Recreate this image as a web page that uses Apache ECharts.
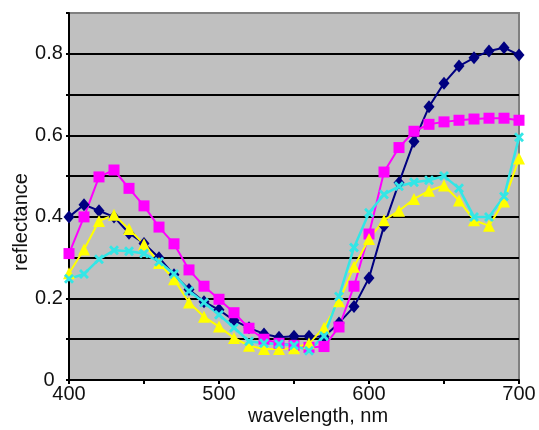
<!DOCTYPE html>
<html>
<head>
<meta charset="utf-8">
<script src="https://cdn.jsdelivr.net/npm/echarts@6/dist/echarts.min.js"></script>
<style>
html,body{margin:0;padding:0;background:#fff;}
#chart{width:539px;height:430px;}
</style>
</head>
<body>
<div id="chart"></div>
<script>
const wavelengths = [400,410,420,430,440,450,460,470,480,490,500,510,520,530,540,550,560,570,580,590,600,610,620,630,640,650,660,670,680,690,700];
const navyValues = [0.40,0.43,0.415,0.40,0.36,0.335,0.30,0.258,0.222,0.192,0.172,0.146,0.128,0.113,0.105,0.107,0.107,0.106,0.14,0.18,0.25,0.378,0.484,0.585,0.67,0.728,0.77,0.79,0.807,0.815,0.797];
const magentaValues = [0.31,0.40,0.498,0.515,0.47,0.427,0.375,0.334,0.27,0.23,0.198,0.165,0.127,0.10,0.09,0.085,0.08,0.082,0.13,0.23,0.358,0.51,0.57,0.61,0.627,0.633,0.637,0.64,0.642,0.642,0.637];
const yellowValues = [0.262,0.32,0.39,0.405,0.37,0.333,0.287,0.247,0.19,0.155,0.131,0.103,0.084,0.076,0.076,0.078,0.09,0.128,0.193,0.278,0.346,0.392,0.415,0.444,0.464,0.477,0.44,0.392,0.378,0.438,0.543];
const cyanValues = [0.248,0.26,0.296,0.318,0.316,0.31,0.29,0.26,0.218,0.19,0.16,0.128,0.095,0.09,0.088,0.085,0.072,0.108,0.205,0.325,0.41,0.455,0.475,0.485,0.49,0.50,0.47,0.40,0.40,0.45,0.595];
const xTickLabels = ['400','500','600','700'];
const yTickLabels = ['0','0.2','0.4','0.6','0.8'];
const xTitle = 'wavelength, nm';
const yTitle = 'reflectance';

function pairs(vals){ return wavelengths.map((w,i)=>[w, vals[i]]); }
const xMark = 'path://M0,2L2,0L5,3L8,0L10,2L7,5L10,8L8,10L5,7L2,10L0,8L3,5Z';
const FONT = 'Liberation Sans, Arial, sans-serif';

const chart = echarts.init(document.getElementById('chart'), null, {renderer:'canvas'});
function mk(name, vals, color, symbol, size, lw){
  return {
    name, type:'line', data: pairs(vals), symbol, symbolSize:size,
    showSymbol:true, animation:false,
    lineStyle:{color, width:lw}, itemStyle:{color, borderWidth:0},
    emphasis:{disabled:true}
  };
}
chart.setOption({
  animation:false,
  grid:{left:69, right:20, top:13, bottom:50, show:true, backgroundColor:'#C0C0C0', borderColor:'#808080', borderWidth:2},
  xAxis:{
    type:'value', min:400, max:700, interval:50,
    axisLine:{show:true, onZero:false, lineStyle:{color:'#000', width:2}},
    axisTick:{show:true, length:4, lineStyle:{color:'#000', width:2}},
    axisLabel:{margin:4, fontSize:20, fontFamily:FONT, color:'#111',
      formatter:v=>{const s=String(Math.round(v)); return xTickLabels.includes(s)?s:'';}},
    splitLine:{show:false}
  },
  yAxis:{
    type:'value', min:0, max:0.9, interval:0.1,
    axisLine:{show:true, lineStyle:{color:'#000', width:2}},
    axisTick:{show:true, length:3, lineStyle:{color:'#000', width:2}},
    axisLabel:{margin:20, align:'center', fontSize:20, fontFamily:FONT, color:'#111',
      formatter:v=>{const k=Math.round(v*10); const s = k===0?'0':(k/10).toFixed(1); return yTickLabels.includes(s)?s:'';}},
    splitLine:{show:true, showMinLine:false, showMaxLine:false, lineStyle:{color:'#000', width:2}}
  },
  graphic:[
    {type:'text', x:318, y:416, style:{text:xTitle, font:'20px '+FONT, fill:'#111', textAlign:'center', textVerticalAlign:'middle'}},
    {type:'text', x:21, y:222, rotation:Math.PI/2, style:{text:yTitle, font:'20px '+FONT, fill:'#111', textAlign:'center', textVerticalAlign:'middle'}}
  ],
  series:[
    mk('navy', navyValues, '#000080', 'diamond', [11,13], 2),
    mk('magenta', magentaValues, '#FF00FF', 'rect', 11, 2),
    mk('yellow', yellowValues, '#FFFF00', 'triangle', 12, 2),
    mk('cyan', cyanValues, '#33E6E6', xMark, 10, 2.5)
  ]
});
</script>
</body>
</html>
